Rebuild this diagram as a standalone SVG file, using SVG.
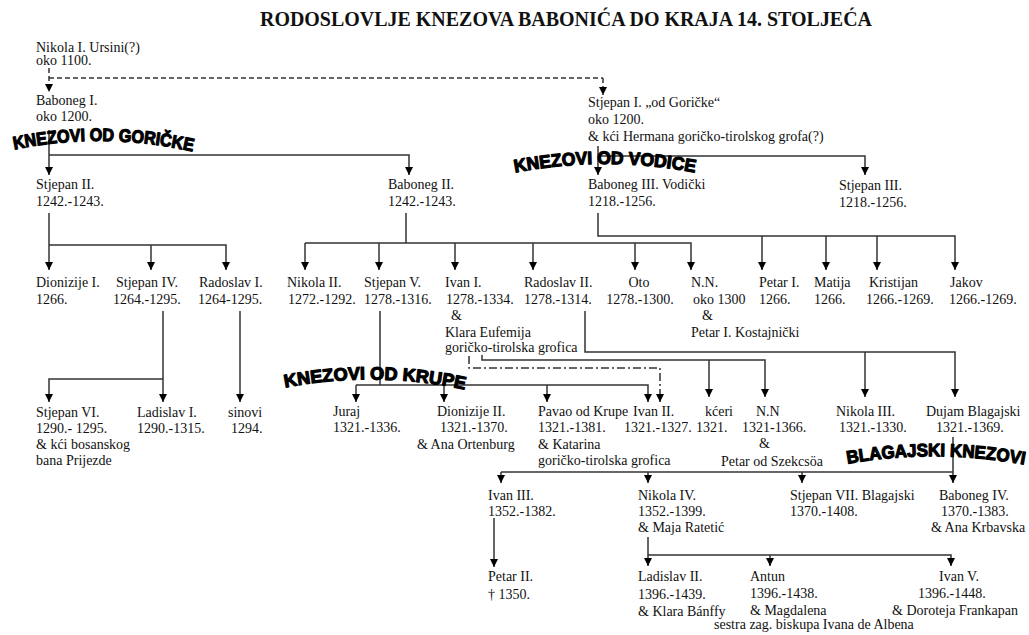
<svg xmlns="http://www.w3.org/2000/svg" width="1029" height="635" viewBox="0 0 1029 635">
<defs>
<style>
text{font-family:"Liberation Serif","Times New Roman",serif;font-size:14px;fill:#111}
.title{font-weight:bold;font-size:20px}
.wa{font-family:"Liberation Sans",Arial,sans-serif;font-weight:bold;font-size:18px;fill:#000;stroke:#000;stroke-width:1.2;stroke-linejoin:round}
.c{fill:none;stroke:#333;stroke-width:1.5}
.ar{marker-end:url(#ah)}
.dash{stroke-dasharray:5,3}
.dd{stroke-dasharray:8,3,2,3}
.m{text-anchor:middle}
</style>
<marker id="ah" markerUnits="userSpaceOnUse" markerWidth="9" markerHeight="9" refX="8" refY="4.5" orient="auto"><path d="M0,0.5 L8,4.5 L0,8.5 z" fill="#000"/></marker>
<path id="pGor" d="M12,150 Q103,131 195,152"/>
<path id="pVod" d="M513,173 Q605,155 697,173"/>
<path id="pKru" d="M283,388 Q375,370 467,390"/>
<path id="pBla" d="M846,464 Q936,448 1026,465"/>
</defs>
<rect width="1029" height="635" fill="#fff"/>
<text class="title" x="260" y="26" textLength="612" lengthAdjust="spacingAndGlyphs">RODOSLOVLJE KNEZOVA BABONIĆA DO KRAJA 14. STOLJEĆA</text>

<g id="connectors">
<path class="c dash ar" d="M49,68 V92"/>
<path class="c dash" d="M49,78 H603"/>
<path class="c dash ar" d="M603,78 V95"/>
<path class="c ar" d="M49,130 V175"/>
<path class="c ar" d="M49,155 H409 V175"/>
<path class="c ar" d="M598,146 V175"/>
<path class="c ar" d="M598,156 H865 V175"/>
<path class="c ar" d="M49,213 V270"/>
<path class="c ar" d="M49,245 H226 V270"/>
<path class="c ar" d="M151,245 V270"/>
<path class="c" d="M406,213 V243"/>
<path class="c ar" d="M305,243 H691 V270"/>
<path class="c ar" d="M305,243 V270"/>
<path class="c ar" d="M379,243 V270"/>
<path class="c ar" d="M455,243 V270"/>
<path class="c ar" d="M533,243 V270"/>
<path class="c ar" d="M635,243 V270"/>
<path class="c ar" d="M598,213 V236 H955 V270"/>
<path class="c ar" d="M762,236 V270"/>
<path class="c ar" d="M826,236 V270"/>
<path class="c ar" d="M877,236 V270"/>
<path class="c ar" d="M163,311 V402"/>
<path class="c ar" d="M163,379 H49 V402"/>
<path class="c ar" d="M240,311 V402"/>
<path class="c" d="M380,311 V385"/>
<path class="c ar" d="M356,385 H648 V402"/>
<path class="c ar" d="M356,385 V402"/>
<path class="c ar" d="M444,385 V402"/>
<path class="c ar" d="M547,385 V402"/>
<path class="c dd ar" d="M469,356 V368 H660 V402"/>
<path class="c ar" d="M482,355 V360 H765 V397"/>
<path class="c ar" d="M709,360 V397"/>
<path class="c ar" d="M585,311 V352 H955 V397"/>
<path class="c ar" d="M865,352 V397"/>
<path class="c ar" d="M953,437 V483"/>
<path class="c" d="M501,472 H953"/>
<path class="c ar" d="M501,472 V483"/>
<path class="c ar" d="M648,472 V483"/>
<path class="c ar" d="M802,472 V483"/>
<path class="c ar" d="M494,518 V567"/>
<path class="c ar" d="M648,537 V566"/>
<path class="c ar" d="M648,555 H951 V566"/>
<path class="c ar" d="M770,555 V566"/>
</g>

<g id="n-nikola1"><text x="36" y="52">Nikola I. Ursini(?)</text><text x="36" y="65">oko 1100.</text></g>
<g id="n-baboneg1"><text x="36" y="105">Baboneg I.</text><text x="36" y="121">oko 1200.</text></g>
<g id="n-stjepan1"><text x="588" y="107">Stjepan I. „od Goričke“</text><text x="588" y="124">oko 1200.</text><text x="588" y="141">&amp; kći Hermana goričko-tirolskog grofa(?)</text></g>
<g id="n-stjepan2"><text x="36" y="189">Stjepan II.</text><text x="36" y="206">1242.-1243.</text></g>
<g id="n-baboneg2"><text x="388" y="189">Baboneg II.</text><text x="388" y="206">1242.-1243.</text></g>
<g id="n-baboneg3"><text x="588" y="189">Baboneg III. Vodički</text><text x="588" y="206">1218.-1256.</text></g>
<g id="n-stjepan3"><text x="839" y="190">Stjepan III.</text><text x="839" y="207">1218.-1256.</text></g>

<g id="n-dionizije1"><text x="36" y="287">Dionizije I.</text><text x="36" y="304">1266.</text></g>
<g id="n-stjepan4"><text x="116" y="287">Stjepan IV.</text><text x="113" y="304">1264.-1295.</text></g>
<g id="n-radoslav1"><text x="199" y="287">Radoslav I.</text><text x="198" y="304">1264-1295.</text></g>
<g id="n-nikola2"><text x="287" y="287">Nikola II.</text><text x="288" y="304">1272.-1292.</text></g>
<g id="n-stjepan5"><text x="364" y="287">Stjepan V.</text><text x="364" y="304">1278.-1316.</text></g>
<g id="n-ivan1"><text x="445" y="287">Ivan I.</text><text x="446" y="304">1278.-1334.</text><text x="451" y="320">&amp;</text><text x="445" y="337">Klara Eufemija</text><text x="445" y="352">goričko-tirolska grofica</text></g>
<g id="n-radoslav2"><text x="524" y="287">Radoslav II.</text><text x="524" y="304">1278.-1314.</text></g>
<g id="n-oto"><text class="m" x="639" y="287">Oto</text><text class="m" x="640" y="304">1278.-1300.</text></g>
<g id="n-nn1"><text x="691" y="287">N.N.</text><text x="693" y="304">oko 1300</text><text x="702" y="320">&amp;</text><text x="691" y="337">Petar I. Kostajnički</text></g>
<g id="n-petar1"><text x="759" y="287">Petar I.</text><text x="759" y="304">1266.</text></g>
<g id="n-matija"><text x="814" y="287">Matija</text><text x="814" y="304">1266.</text></g>
<g id="n-kristijan"><text x="869" y="287">Kristijan</text><text x="866" y="304">1266.-1269.</text></g>
<g id="n-jakov"><text x="950" y="287">Jakov</text><text x="949" y="304">1266.-1269.</text></g>

<g id="n-stjepan6"><text x="36" y="417">Stjepan VI.</text><text x="36" y="433">1290.- 1295.</text><text x="36" y="449">&amp; kći bosanskog</text><text x="36" y="465">bana Prijezde</text></g>
<g id="n-ladislav1"><text x="137" y="417">Ladislav I.</text><text x="137" y="433">1290.-1315.</text></g>
<g id="n-sinovi"><text x="228" y="417">sinovi</text><text x="231" y="433">1294.</text></g>
<g id="n-juraj"><text x="333" y="416">Juraj</text><text x="333" y="432">1321.-1336.</text></g>
<g id="n-dionizije2"><text x="437" y="416">Dionizije II.</text><text x="440" y="432">1321.-1370.</text><text x="417" y="449">&amp; Ana Ortenburg</text></g>
<g id="n-pavao"><text x="538" y="416">Pavao od Krupe</text><text x="538" y="432">1321.-1381.</text><text x="538" y="449">&amp; Katarina</text><text x="538" y="465">goričko-tirolska grofica</text></g>
<g id="n-ivan2"><text x="633" y="416">Ivan II.</text><text x="624" y="432">1321.-1327.</text></g>
<g id="n-kceri"><text x="705" y="416">kćeri</text><text x="696" y="432">1321.</text></g>
<g id="n-nn2"><text x="756" y="416">N.N</text><text x="742" y="432">1321-1366.</text><text x="759" y="448">&amp;</text><text x="721" y="466">Petar od Szekcsöa</text></g>
<g id="n-nikola3"><text x="836" y="416">Nikola III.</text><text x="839" y="432">1321.-1330.</text></g>
<g id="n-dujam"><text x="926" y="416">Dujam Blagajski</text><text x="936" y="432">1321.-1369.</text></g>

<g id="n-ivan3"><text x="488" y="500">Ivan III.</text><text x="488" y="516">1352.-1382.</text></g>
<g id="n-nikola4"><text x="638" y="500">Nikola IV.</text><text x="638" y="516">1352.-1399.</text><text x="638" y="532">&amp; Maja Ratetić</text></g>
<g id="n-stjepan7"><text x="790" y="500">Stjepan VII. Blagajski</text><text x="790" y="516">1370.-1408.</text></g>
<g id="n-baboneg4"><text x="939" y="500">Baboneg IV.</text><text x="941" y="516">1370.-1383.</text><text x="931" y="532">&amp; Ana Krbavska</text></g>

<g id="n-petar2"><text x="488" y="581">Petar II.</text><text x="488" y="599">† 1350.</text></g>
<g id="n-ladislav2"><text x="638" y="581">Ladislav II.</text><text x="638" y="599">1396.-1439.</text><text x="638" y="616">&amp; Klara Bánffy</text></g>
<g id="n-antun"><text x="750" y="581">Antun</text><text x="750" y="598">1396.-1438.</text><text x="750" y="615">&amp; Magdalena</text><text x="714" y="629">sestra zag. biskupa Ivana de Albena</text></g>
<g id="n-ivan5"><text x="939" y="581">Ivan V.</text><text x="918" y="598">1396.-1448.</text><text x="892" y="615">&amp; Doroteja Frankapan</text></g>

<g id="labels">
<text class="wa"><textPath href="#pGor" startOffset="50%" text-anchor="middle" textLength="180" lengthAdjust="spacingAndGlyphs">KNEZOVI OD GORIČKE</textPath></text>
<text class="wa"><textPath href="#pVod" startOffset="50%" text-anchor="middle" textLength="181" lengthAdjust="spacingAndGlyphs">KNEZOVI OD VODICE</textPath></text>
<text class="wa"><textPath href="#pKru" startOffset="50%" text-anchor="middle" textLength="181" lengthAdjust="spacingAndGlyphs">KNEZOVI OD KRUPE</textPath></text>
<text class="wa"><textPath href="#pBla" startOffset="50%" text-anchor="middle" textLength="178" lengthAdjust="spacingAndGlyphs">BLAGAJSKI KNEZOVI</textPath></text>
</g>
</svg>
